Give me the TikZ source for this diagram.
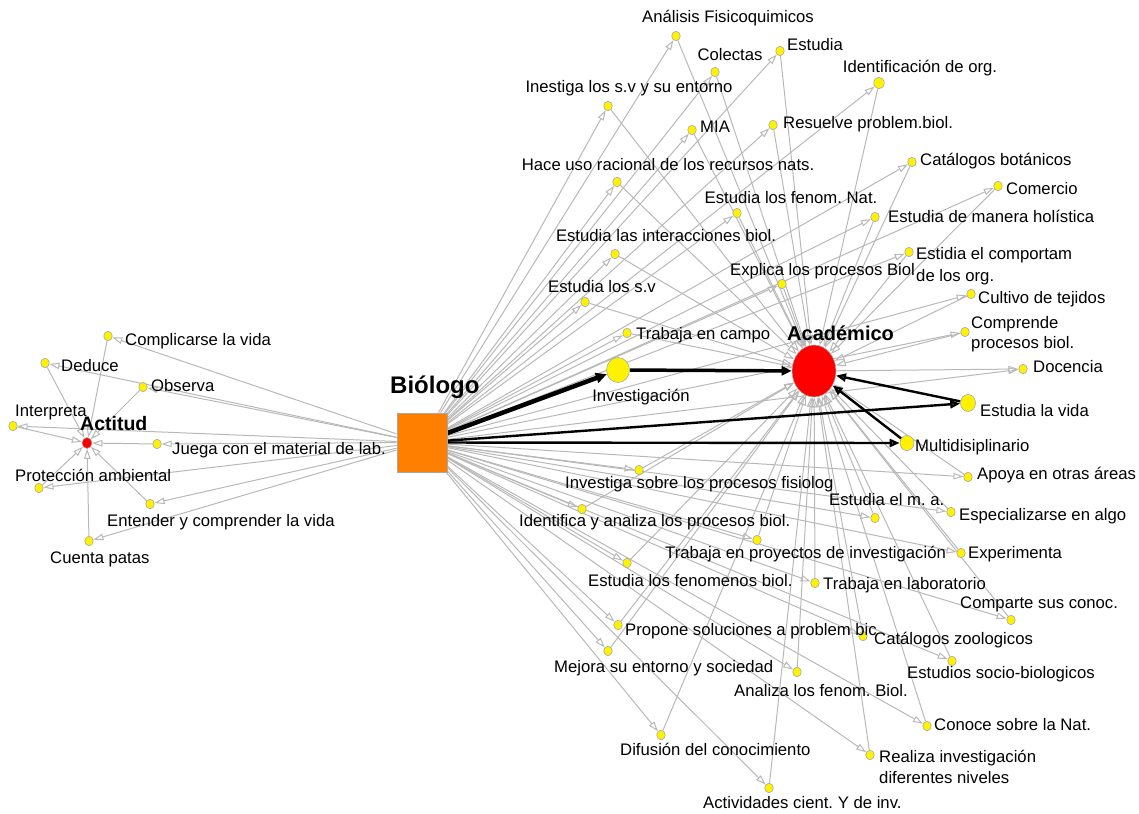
\documentclass[tikz,border=0pt]{standalone}
\usepackage{fontspec}
\setmainfont{Liberation Sans}
\usetikzlibrary{arrows.meta,shapes.geometric,backgrounds}
\definecolor{edgegray}{HTML}{B8B8B8}
\definecolor{dotborder}{HTML}{A8A8A8}
\definecolor{bioorange}{HTML}{FF8000}
\frenchspacing
\begin{document}
\begin{tikzpicture}[x=1pt,y=-1pt,
  every node/.style={font=\fontsize{16.7}{20}\selectfont},
  dot/.style={ellipse, draw=dotborder, fill=yellow, inner sep=0pt, minimum width=8.5pt, minimum height=9.5pt, line width=0.6pt},
  hub/.style={ellipse, draw=dotborder, fill=red, inner sep=0pt, line width=0.6pt},
  lw/.style={inner sep=0pt, anchor=base west},
  lc/.style={inner sep=0pt, anchor=base},
  l2/.style={inner sep=0pt, anchor=north west, align=left},
  gedge/.style={draw=edgegray, line width=1pt, -{Triangle[open, length=10pt, width=6.5pt]}},
  bedge/.style={draw=black, line width=2.4pt, -{Triangle[open, length=10pt, width=8pt]}},
]
\useasboundingbox (0,0) rectangle (1139,813);

% hubs
\node[draw=dotborder, fill=bioorange, minimum width=50pt, minimum height=59pt, inner sep=0pt, line width=0.8pt] (bio) at (422,442.5) {};
\node[hub, minimum width=44pt, minimum height=52pt] (aca) at (814,371) {};
\node[hub, minimum width=10pt, minimum height=11pt] (acti) at (87,443) {};
\node[dot, minimum width=23pt, minimum height=25pt] (inv) at (618,370) {};
\node[dot, minimum width=15pt, minimum height=17pt] (vid) at (968,403) {};
\node[dot, minimum width=14pt, minimum height=15pt] (mul) at (907,443) {};

% left cluster
\node[dot] (cvi) at (108,336) {};
\node[dot] (ded) at (45,363) {};
\node[dot] (obs) at (143,387) {};
\node[dot] (itp) at (13,426) {};
\node[dot] (jue) at (157,444) {};
\node[dot] (pam) at (39,488) {};
\node[dot] (ent) at (150,504) {};
\node[dot] (cpa) at (89,541) {};

% right nodes
\node[dot] (ana) at (676,36) {};
\node[dot] (col) at (715,72) {};
\node[dot] (est) at (780,51) {};
\node[dot] (ine) at (608,106) {};
\node[dot] (mia) at (692,130) {};
\node[dot] (res) at (773,125) {};
\node[dot, minimum width=10.5pt, minimum height=11.5pt] (ide) at (879,83) {};
\node[dot] (hac) at (617,182) {};
\node[dot] (cat) at (912,162) {};
\node[dot] (com) at (998,186) {};
\node[dot] (efn) at (737,213) {};
\node[dot] (hol) at (875,217) {};
\node[dot] (int) at (615,254) {};
\node[dot] (ecm) at (909,252) {};
\node[dot] (exp) at (782,284) {};
\node[dot] (esv) at (585,302) {};
\node[dot] (cul) at (971,294) {};
\node[dot] (tca) at (627,333) {};
\node[dot] (cpb) at (965,332) {};
\node[dot] (doc) at (1023,369) {};
\node[dot] (isp) at (639,470) {};
\node[dot] (apo) at (968,477) {};
\node[dot] (ida) at (582,509) {};
\node[dot] (ema) at (875,518) {};
\node[dot] (esp) at (951,512) {};
\node[dot] (tpi) at (757,540) {};
\node[dot] (xpe) at (961,553) {};
\node[dot] (efb) at (627,563) {};
\node[dot] (tla) at (815,583) {};
\node[dot] (cso) at (1011,620) {};
\node[dot] (pro) at (618,625) {};
\node[dot] (czo) at (863,636) {};
\node[dot] (mej) at (608,651) {};
\node[dot] (soc) at (952,661) {};
\node[dot] (afb) at (797,672) {};
\node[dot] (con) at (927,726) {};
\node[dot] (dif) at (661,735) {};
\node[dot] (rea) at (870,755) {};
\node[dot] (act) at (769,788) {};

% edges
\begin{scope}[on background layer]
\foreach \n in {cvi,ded,obs,itp,jue,pam,ent,cpa}{
  \draw[gedge] (bio) -- (\n);
  \draw[gedge] (\n) -- (acti);
}
\foreach \n in {ana,col,est,ine,mia,res,ide,hac,cat,com,efn,hol,int,ecm,exp,esv,cul,tca,cpb,isp,apo,ida,ema,esp,tpi,xpe,efb,tla,cso,pro,czo,mej,soc,afb,con,dif,rea,act}{
  \draw[gedge] (bio) -- (\n);
  \draw[gedge] (\n) -- (aca);
}
\draw[gedge] (bio) -- (doc);
\draw[gedge] (aca) -- (doc);
\draw[draw=black, line width=4.5pt, -{Triangle[length=11pt, width=10pt]}] (bio) -- (inv);
\draw[draw=black, line width=3.5pt, -{Triangle[length=10pt, width=9pt]}] (inv) -- (aca);
\draw[bedge] (bio) -- (vid);
\draw[bedge] (vid) -- (aca);
\draw[bedge] (bio) -- (mul);
\draw[bedge] (mul) -- (aca);
\end{scope}

% hub labels
\node[lw, font=\fontsize{24}{28}\selectfont\bfseries] (bio-l) at (390,393.5) {Biólogo};
\node[lw, font=\fontsize{20}{24}\selectfont\bfseries] (aca-l) at (787,340) {Académico};
\node[lw, font=\fontsize{19.5}{24}\selectfont\bfseries] (acti-l) at (80,430) {Actitud};
\node[lc] (inv-l) at (641,401) {Investigación};
\node[lw] (vid-l) at (980,416) {Estudia la vida};
\node[lw] (mul-l) at (915,451) {Multidisiplinario};

% left labels
\node[lw] (cvi-l) at (125,345) {Complicarse la vida};
\node[lw] (ded-l) at (61,371) {Deduce};
\node[lw] (obs-l) at (151,391) {Observa};
\node[lw] (itp-l) at (15,416) {Interpreta};
\node[lw] (jue-l) at (172,454) {Juega con el material de lab.};
\node[lw] (pam-l) at (15,481) {Protección ambiental};
\node[lw] (ent-l) at (107,526) {Entender y comprender la vida};
\node[lw] (cpa-l) at (50,563) {Cuenta patas};

% right labels
\node[lc] (ana-l) at (728,23) {Análisis Fisicoquimicos};
\node[lc] (col-l) at (730,61) {Colectas};
\node[lw] (est-l) at (787,51) {Estudia};
\node[lc] (ine-l) at (629,93) {Inestiga los s.v y su entorno};
\node[lw] (mia-l) at (700,133) {MIA};
\node[lw] (res-l) at (783,129) {Resuelve problem.biol.};
\node[lc] (ide-l) at (920,73) {Identificación de org.};
\node[lc] (hac-l) at (668,171) {Hace uso racional de los recursos nats.};
\node[lw] (cat-l) at (920,166) {Catálogos botánicos};
\node[lw] (com-l) at (1006,194) {Comercio};
\node[lc] (efn-l) at (791,204) {Estudia los fenom. Nat.};
\node[lw] (hol-l) at (888,222) {Estudia de manera holística};
\node[lc] (int-l) at (666,241) {Estudia las interacciones biol.};
\node[l2, font=\fontsize{16.7}{22}\selectfont] (ecm-l) at (916,247) {Estidia el comportam\\de los org.};
\node[lw] (exp-l) at (730,275) {Explica los procesos Biol};
\node[lc] (esv-l) at (602,292) {Estudia los s.v};
\node[lw] (cul-l) at (978,303) {Cultivo de tejidos};
\node[lw] (tca-l) at (636,339) {Trabaja en campo};
\node[l2, font=\fontsize{16.7}{20}\selectfont] (cpb-l) at (971,316) {Comprende\\procesos biol.};
\node[lw] (doc-l) at (1033,372) {Docencia};
\node[lw] (isp-l) at (565,488) {Investiga sobre los procesos fisiolog};
\node[lw] (apo-l) at (977,479) {Apoya en otras áreas};
\node[lw] (ida-l) at (519,526) {Identifica y analiza los procesos biol.};
\node[lw] (ema-l) at (829,505) {Estudia el m. a.};
\node[lw] (esp-l) at (959,520) {Especializarse en algo};
\node[lw] (tpi-l) at (665,558) {Trabaja en proyectos de investigación};
\node[lw] (xpe-l) at (968,558) {Experimenta};
\node[lw] (efb-l) at (588,586) {Estudia los fenomenos biol.};
\node[lw] (tla-l) at (823,589) {Trabaja en laboratorio};
\node[lw] (cso-l) at (960,608) {Comparte sus conoc.};
\node[lw] (pro-l) at (625,635) {Propone soluciones a problem bic};
\node[lw] (czo-l) at (874,644) {Catálogos zoologicos};
\node[lw] (mej-l) at (554,672) {Mejora su entorno y sociedad};
\node[lw] (soc-l) at (907,678) {Estudios socio-biologicos};
\node[lw] (afb-l) at (734,696) {Analiza los fenom. Biol.};
\node[lw] (con-l) at (934,730) {Conoce sobre la Nat.};
\node[lw] (dif-l) at (620,755) {Difusión del conocimiento};
\node[l2, font=\fontsize{16.7}{21}\selectfont] (rea-l) at (879,750) {Realiza investigación\\diferentes niveles};
\node[lw] (act-l) at (703,808) {Actividades cient. Y de inv.};
\end{tikzpicture}
\end{document}
